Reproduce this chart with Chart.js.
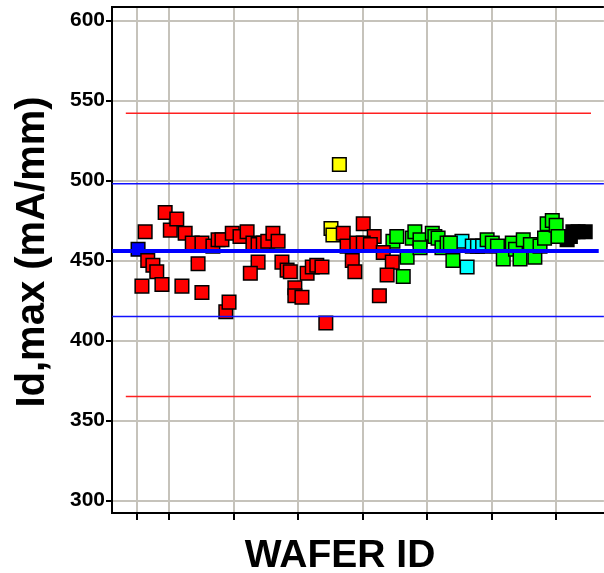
<!DOCTYPE html>
<html>
<head>
<meta charset="utf-8">
<script src="https://cdn.jsdelivr.net/npm/chart.js@4/dist/chart.umd.min.js"></script>
<style>
  html, body { margin: 0; padding: 0; background: #fff; overflow: hidden; }
  #wrap { width: 615px; height: 577px; position: relative; top: -4px; }
</style>
</head>
<body>
<div id="wrap"><canvas id="grafico"></canvas></div>
<script>
// ===================== DADOS =====================
// x = posição do wafer no eixo, y = Id,max (mA/mm)
const blueX = [5.2];
const blueY = [457];

const redX = [5.8, 6.3, 6.7, 7.5, 8.1, 8.9, 9.4, 10.2, 11.2, 12.0, 12.5, 13.6, 14.5, 15.1, 15.1, 16.8, 17.6,
  18.8, 19.3, 18.2, 19.8, 21.0, 22.1, 23.0, 23.8, 24.6, 25.3, 26.1, 26.9, 23.8, 22.6, 27.5, 28.3, 28.8,
  29.5, 29.5, 30.6, 31.4, 32.2, 32.9, 33.7, 34.3, 37.0, 40.1, 41.8, 37.6, 38.4, 38.8, 39.1, 40.1, 41.2,
  43.2, 44.6, 43.8, 42.6];
const redY = [434, 468, 450, 447, 443, 435, 480, 469, 476, 434, 467, 461, 448, 430, 461, 459, 463,
  418, 424, 463, 467, 465, 468, 461, 460, 461, 462, 467, 462, 449, 442, 449, 444, 443,
  433, 428, 427, 442, 446, 447, 446, 411, 467, 473, 465, 459, 450, 443, 461, 461, 460,
  455, 449, 441, 428];

const yellowX = [35.1, 35.4, 36.4];
const yellowY = [470, 466, 510];

const greenX = [44.7, 45.3, 46.3, 46.9, 47.7, 48.1, 48.9, 48.9, 50.8, 51.2, 51.7, 52.3, 53.1, 53.6, 54.0,
  59.3, 60.1, 60.9, 61.8, 63.2, 63.7, 64.4, 64.9, 66.0, 66.7, 67.5, 68.2, 68.6, 69.4, 70.0, 70.3];
const greenY = [462, 465, 440, 452, 464, 468, 463, 458, 467, 465, 464, 458, 461, 461, 450,
  463, 461, 459, 451, 461, 457, 451, 463, 460, 452, 459, 464, 473, 475, 472, 465];

const cyanX = [55.4, 56.2, 57.0, 57.8, 58.6];
const cyanY = [462, 446, 459, 459, 459];

const blackX = [71.7, 72.2, 72.6, 73.4, 74.5];
const blackY = [463, 465, 468, 468, 468];

// limites
const redLimits = [542, 365];
const blueLimits = [498, 415];
const meanValue = 456;

const xTicks = [5, 10, 20, 30, 40, 50, 60, 70];
const yTicks = [300, 350, 400, 450, 500, 550, 600];

// ===================== MONTAGEM =====================
function pontos(xs, ys) {
  return xs.map((x, i) => ({ x: x, y: ys[i] }));
}

function serie(xs, ys, cor) {
  return {
    type: 'scatter',
    data: pontos(xs, ys),
    backgroundColor: cor,
    borderColor: '#000',
    borderWidth: 1.5,
    pointStyle: 'rect',
    pointRadius: 9.6,
    order: 2
  };
}

function linha(valor, x0, x1, cor, largura) {
  return {
    type: 'line',
    data: [{ x: x0, y: valor }, { x: x1, y: valor }],
    borderColor: cor,
    borderWidth: largura,
    pointRadius: 0,
    fill: false,
    order: 0
  };
}

const datasets = [
  serie(redX, redY, '#ff0000'),
  serie(yellowX, yellowY, '#ffff00'),
  serie(greenX, greenY, '#00ff00'),
  serie(cyanX, cyanY, '#00ffff'),
  serie(blackX, blackY, '#000000'),
  serie(blueX, blueY, '#0000ff')
];
redLimits.forEach(v => datasets.push(linha(v, 3.3, 75.4, '#ff2020', 1.5)));
blueLimits.forEach(v => datasets.push(linha(v, 1.2, 77.4, '#1010ff', 1.5)));
datasets.push(linha(meanValue, 1.2, 76.6, '#0000ff', 4));

// títulos e borda superior desenhados à mão (canvas deslocado 4px para cima)
const titulos = {
  id: 'titulos',
  afterDraw(chart) {
    const c = chart.ctx;
    const a = chart.chartArea;
    c.save();
    c.strokeStyle = '#000';
    c.lineWidth = 2;
    c.beginPath();
    c.moveTo(a.left, a.top);
    c.lineTo(a.right, a.top);
    c.stroke();
    c.fillStyle = '#000';
    c.font = 'bold 39px "Liberation Sans", Arial, sans-serif';
    c.textAlign = 'center';
    c.textBaseline = 'middle';
    c.fillText('WAFER ID', 340, 560);
    c.translate(33, 256);
    c.rotate(-Math.PI / 2);
    c.font = 'bold 40px "Liberation Sans", Arial, sans-serif';
    c.fillText('Id,max (mA/mm)', 0, 0);
    c.restore();
  }
};

new Chart(document.getElementById('grafico'), {
  data: { datasets: datasets },
  options: {
    responsive: true,
    maintainAspectRatio: false,
    animation: false,
    layout: { padding: { top: 3, left: 0, right: 0, bottom: 0 } },
    plugins: { legend: { display: false }, tooltip: { enabled: false } },
    scales: {
      x: {
        type: 'linear',
        min: 1.16,
        max: 77.4,
        afterBuildTicks: s => { s.ticks = xTicks.map(v => ({ value: v })); },
        afterFit: s => { s.height = 60; s.paddingLeft = 0; s.paddingRight = 0; },
        ticks: { callback: () => '', font: { size: 1 } },
        grid: { color: '#c6c3bb', lineWidth: 2, tickColor: '#000', tickLength: 7, drawTicks: true },
        border: { color: '#000', width: 2 }
      },
      y: {
        min: 292.2,
        max: 608.4,
        afterBuildTicks: s => { s.ticks = yTicks.map(v => ({ value: v })); },
        afterFit: s => { s.width = 112; s.paddingTop = 0; s.paddingBottom = 0; },
        ticks: {
          color: '#000',
          padding: 1,
          font: { family: '"Liberation Sans", Arial, sans-serif', size: 21, weight: 'bold' }
        },
        grid: { color: '#c6c3bb', lineWidth: 2, tickColor: '#000', tickLength: 6, drawTicks: true },
        border: { color: '#000', width: 2 }
      }
    }
  },
  plugins: [titulos]
});
</script>
</body>
</html>
